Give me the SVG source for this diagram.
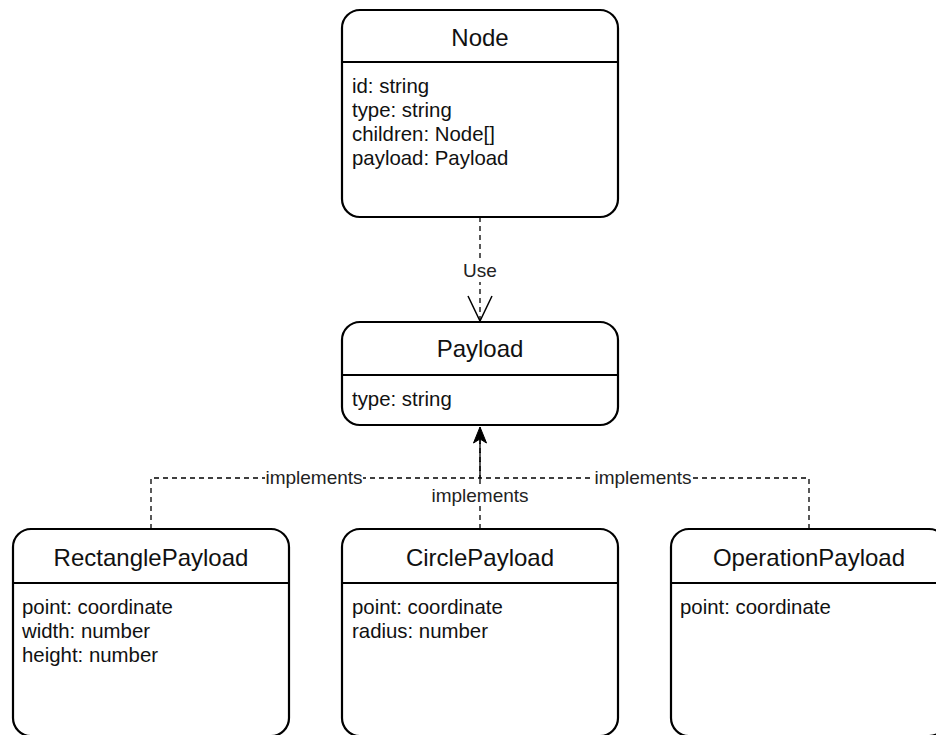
<svg xmlns="http://www.w3.org/2000/svg" width="936" height="735" viewBox="0 0 936 735">
<style>
.box{fill:#fff;stroke:#000;stroke-width:2.2}
.div{stroke:#000;stroke-width:2.2}
.title{font-family:"Liberation Sans",Arial,sans-serif;font-size:24px;fill:#111;text-anchor:middle}
.attr{font-family:"Liberation Sans",Arial,sans-serif;font-size:20.4px;fill:#111}
.edge{fill:none;stroke:#000;stroke-width:1.3;stroke-dasharray:5 4}
.lbl{font-family:"Liberation Sans",Arial,sans-serif;font-size:19px;fill:#222;text-anchor:middle}
.lblbg{fill:#fff}
</style>
<defs>
<marker id="open" markerUnits="userSpaceOnUse" markerWidth="40" markerHeight="40" refX="0" refY="0" orient="auto" overflow="visible">
<path d="M-25,-12 L0,0 L-25,12" fill="none" stroke="#000" stroke-width="1.5"/>
</marker>
<marker id="classic" markerUnits="userSpaceOnUse" markerWidth="40" markerHeight="40" refX="0" refY="0" orient="auto" overflow="visible">
<path d="M0,0 L-16,-6.5 L-12,0 L-16,6.5 Z" fill="#000" stroke="#000" stroke-width="1"/>
</marker>
</defs>

<g id="connectors">
<path class="edge" d="M480,217 V321" marker-end="url(#open)"/>
<path class="edge" d="M151,529 V478 H480 V427"/>
<path class="edge" d="M809,529 V478 H480 V427"/>
<path class="edge" d="M480,529 V427" marker-end="url(#classic)"/>
<rect class="lblbg" x="462" y="258" width="36" height="24"/>
<text class="lbl" x="480" y="277">Use</text>
<rect class="lblbg" x="265" y="468" width="98" height="20"/>
<text class="lbl" x="314" y="484">implements</text>
<rect class="lblbg" x="594" y="468" width="98" height="20"/>
<text class="lbl" x="643" y="484">implements</text>
<rect class="lblbg" x="431" y="486" width="98" height="20"/>
<text class="lbl" x="480" y="502">implements</text>
</g>

<g id="node-Node">
<rect class="box" x="342" y="10" width="276" height="207" rx="18"/>
<line class="div" x1="342" y1="62" x2="618" y2="62"/>
<text class="title" x="480" y="46">Node</text>
<text class="attr" x="352" y="93">id: string</text>
<text class="attr" x="352" y="117">type: string</text>
<text class="attr" x="352" y="141">children: Node[]</text>
<text class="attr" x="352" y="165">payload: Payload</text>
</g>

<g id="node-Payload">
<rect class="box" x="342" y="322" width="276" height="103" rx="18"/>
<line class="div" x1="342" y1="375" x2="618" y2="375"/>
<text class="title" x="480" y="357">Payload</text>
<text class="attr" x="352" y="406">type: string</text>
</g>

<g id="node-RectanglePayload">
<rect class="box" x="13" y="529" width="276" height="207" rx="18"/>
<line class="div" x1="13" y1="583" x2="289" y2="583"/>
<text class="title" x="151" y="566">RectanglePayload</text>
<text class="attr" x="22" y="614">point: coordinate</text>
<text class="attr" x="22" y="638">width: number</text>
<text class="attr" x="22" y="662">height: number</text>
</g>

<g id="node-CirclePayload">
<rect class="box" x="342" y="529" width="276" height="207" rx="18"/>
<line class="div" x1="342" y1="583" x2="618" y2="583"/>
<text class="title" x="480" y="566">CirclePayload</text>
<text class="attr" x="352" y="614">point: coordinate</text>
<text class="attr" x="352" y="638">radius: number</text>
</g>

<g id="node-OperationPayload">
<rect class="box" x="671" y="529" width="276" height="207" rx="18"/>
<line class="div" x1="671" y1="583" x2="947" y2="583"/>
<text class="title" x="809" y="566">OperationPayload</text>
<text class="attr" x="680" y="614">point: coordinate</text>
</g>
</svg>
